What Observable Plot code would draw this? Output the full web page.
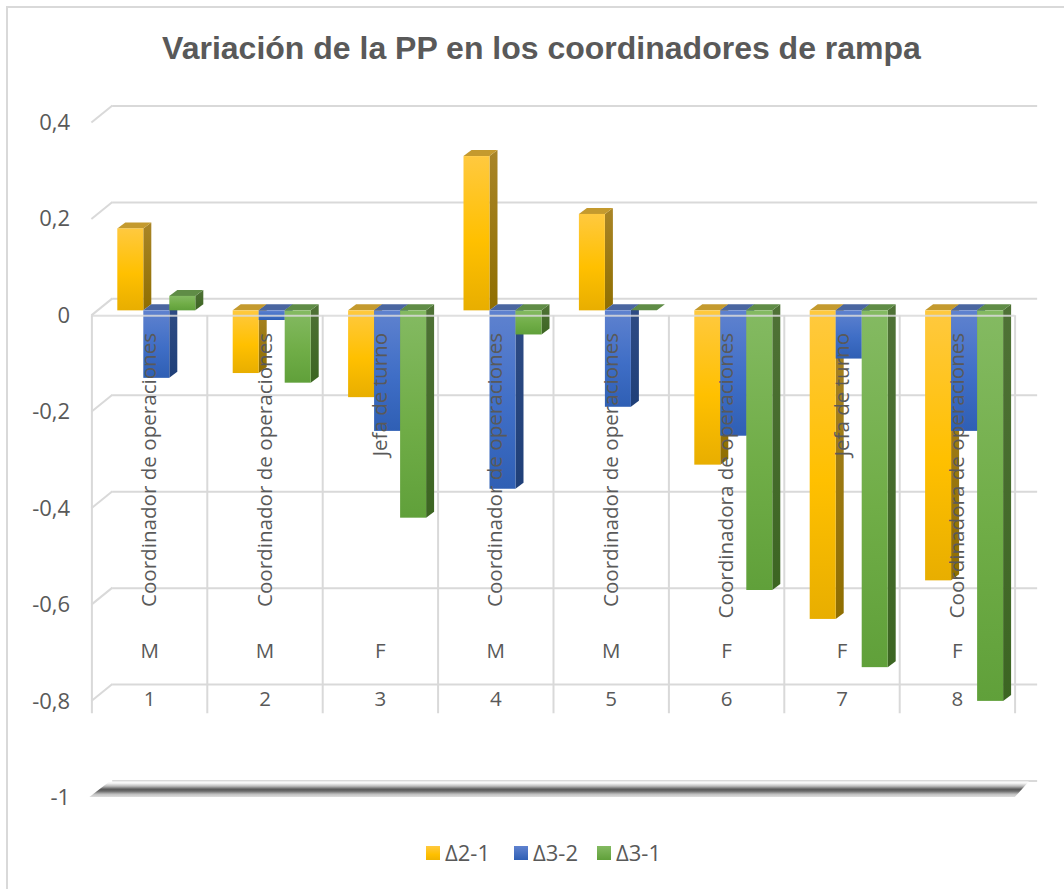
<!DOCTYPE html>
<html><head><meta charset="utf-8">
<script src="https://cdn.jsdelivr.net/npm/d3@7"></script>
<script src="https://cdn.jsdelivr.net/npm/@observablehq/plot@0.6"></script>
<style>
html,body{margin:0;padding:0;background:#fff;overflow:hidden}
#chart{position:relative;width:1064px;height:889px;overflow:hidden;background:#fff}
#chart svg.plot{position:absolute;left:0;top:0}
#frame{position:absolute;left:6px;top:6px;width:1070px;height:900px;border:2px solid #d9d9d9;box-sizing:border-box}
#title{position:absolute;left:0;top:30px;width:1083px;text-align:center;font:bold 32px "Liberation Sans",Arial,sans-serif;color:#595959;white-space:nowrap}
.lg{position:absolute;top:838px;font:22px "Open Sans",sans-serif;color:#595959;line-height:28px}
.sw{position:absolute;top:846px;width:14px;height:14px}
</style></head><body>
<div id="chart"><div id="frame"></div><div id="title">Variación de la PP en los coordinadores de rampa</div></div>
<script>
const categories = [1, 2, 3, 4, 5, 6, 7, 8];
const sexes = ["M", "M", "F", "M", "M", "F", "F", "F"];
const roles = ["Coordinador de operaciones", "Coordinador de operaciones", "Jefa de turno", "Coordinador de operaciones", "Coordinador de operaciones", "Coordinadora de operaciones", "Jefa de turno", "Coordinadora de operaciones"];
const d21 = [0.17, -0.13, -0.18, 0.32, 0.20, -0.32, -0.64, -0.56];
const d32 = [-0.14, -0.02, -0.25, -0.37, -0.20, -0.26, -0.10, -0.25];
const d31 = [0.03, -0.15, -0.43, -0.05, 0, -0.58, -0.74, -0.81];
const ticks = [0.4, 0.2, 0, -0.2, -0.4, -0.6, -0.8, -1];
const seriesNames = ["Δ2-1", "Δ3-2", "Δ3-1"];

const bw = 26 / 115.4;
const ns = "http://www.w3.org/2000/svg";
function poly(parent, pts, fill) {
  const p = document.createElementNS(ns, "polygon");
  p.setAttribute("points", pts.map(a => a.join(",")).join(" "));
  p.setAttribute("fill", fill);
  parent.appendChild(p);
  return p;
}
function grad(defs, id, stops) {
  const g = document.createElementNS(ns, "linearGradient");
  g.setAttribute("id", id); g.setAttribute("x1", 0); g.setAttribute("x2", 0); g.setAttribute("y1", 0); g.setAttribute("y2", 1);
  stops.forEach(([o, c]) => { const s = document.createElementNS(ns, "stop"); s.setAttribute("offset", o); s.setAttribute("stop-color", c); g.appendChild(s); });
  defs.appendChild(g);
}
const defsMark = () => {
  const g = document.createElementNS(ns, "g");
  const defs = document.createElementNS(ns, "defs");
  grad(defs, "fy", [[0, "#ffc93f"], [0.55, "#ffc000"], [1, "#e8ae00"]]);
  grad(defs, "fb", [[0, "#5f82cf"], [0.55, "#3f6ec6"], [1, "#2f5fb4"]]);
  grad(defs, "fg", [[0, "#84ba62"], [0.55, "#70ad47"], [1, "#60a03a"]]);
  grad(defs, "sy", [[0, "#a98527"], [1, "#8f6e00"]]);
  grad(defs, "sb", [[0, "#2f4c85"], [1, "#1f3f78"]]);
  grad(defs, "sg", [[0, "#4f7236"], [1, "#3c6522"]]);
  grad(defs, "floor", [[0, "#ffffff"], [0.12, "#f2f2f2"], [0.3, "#bbbbbb"], [0.5, "#585858"], [0.62, "#6a6a6a"], [0.82, "#c0c0c0"], [1, "#dedede"]]);
  g.appendChild(defs);
  return g;
};
const wallEdges = (index, {x, y}) => {
  const g = document.createElementNS(ns, "g");
  const x0 = x(0.5) - 7.2;
  ticks.forEach(t => {
    if (t === -1) return;
    const l = document.createElementNS(ns, "line");
    l.setAttribute("x1", x0); l.setAttribute("y1", y(t) + 5);
    l.setAttribute("x2", x0 + 21); l.setAttribute("y2", y(t) - 12);
    l.setAttribute("stroke", "#d9d9d9"); l.setAttribute("stroke-width", 2);
    g.appendChild(l);
  });
  const yb = y(-1) - 11;
  poly(g, [[x0 - 2, yb + 15.5], [x0 + 18, yb], [x(8.5) + 7, yb], [x(8.5) - 7, yb + 15.5]], "url(#floor)");
  return g;
};
const bar3d = (side, top) => (index, scales, values, dims, ctx, next) => {
  const g = next(index, scales, values, dims, ctx);
  g.querySelectorAll("rect").forEach(r => {
    const X = +r.getAttribute("x"), Y = +r.getAttribute("y") || 0, W = +r.getAttribute("width"), H = +r.getAttribute("height") || 0;
    const parent = r.parentNode;
    const f = document.createDocumentFragment();
    poly(f, [[X + W, Y], [X + W + 8, Y - 6], [X + W + 8, Y + H - 6], [X + W, Y + H]], side);
    poly(f, [[X, Y], [X + 8, Y - 6], [X + W + 8, Y - 6], [X + W, Y]], top);
    parent.insertBefore(f, r);
  });
  return g;
};
const seriesMark = (vals, k, fill, side, top) => Plot.rect(categories, {
  x1: c => c + (k - 1.5) * bw,
  x2: c => c + (k - 0.5) * bw,
  y1: 0,
  y2: (c, i) => vals[i],
  fill,
  render: bar3d(side, top)
});
const edges = categories.map(c => c - 0.5).concat([8.5]);
const label = {fontFamily: "Open Sans", fill: "#595959"};
const chart = Plot.plot({
  width: 1064, height: 889, margin: 0,
  style: {background: "transparent"},
  x: {domain: [0.5, 8.5], range: [98.6, 1021.8], axis: null},
  y: {domain: [-1, 0.4], range: [792.5, 117.5], axis: null},
  marks: [
    defsMark,
    Plot.ruleY(ticks, {y: d => d, x1: 0.5, x2: 8.515, dx: 13.6, dy: -12, stroke: "#d9d9d9", strokeWidth: 2}),
    Plot.ruleX(edges, {x: d => d, y1: 0, y2: -0.825, dx: -7.2, dy: 5, stroke: "#d9d9d9", strokeWidth: 2}),
    wallEdges,
    seriesMark(d21, 0, "url(#fy)", "url(#sy)", "#c49a2e"),
    seriesMark(d32, 1, "url(#fb)", "url(#sb)", "#4a66a0"),
    seriesMark(d31, 2, "url(#fg)", "url(#sg)", "#5f8c46"),
    Plot.ruleY([0], {x1: 0.5, x2: 8.5, dx: -7.2, dy: 5, stroke: "#d9d9d9", strokeWidth: 2, strokeOpacity: 0.85}),
    Plot.text(ticks, {x: 0.5, y: d => d, text: d => String(d).replace(".", ","), dx: -29, dy: 5, textAnchor: "end", fontSize: 22, ...label}),
    Plot.text(categories, {x: d => d, y: 0, text: (d, i) => roles[i], rotate: -90, textAnchor: "end", dx: -7.2, dy: 22, fontSize: 20.6, ...label}),
    Plot.text(categories, {x: d => d, y: 0, text: (d, i) => sexes[i], dx: -7.2, dy: 341, fontSize: 20.5, ...label}),
    Plot.text(categories, {x: d => d, y: 0, text: d => String(d), dx: -7.2, dy: 389, fontSize: 20.5, ...label})
  ]
});
const root = document.getElementById("chart");
root.appendChild(chart);
const swatchFills = ["linear-gradient(#ffc93f,#ffc000 60%,#f0b400)", "linear-gradient(#5f82cf,#2f5fb4)", "linear-gradient(#84ba62,#60a03a)"];
const swatchX = [426, 514, 597];
seriesNames.forEach((n, i) => {
  const s = document.createElement("div"); s.className = "sw"; s.style.left = swatchX[i] + "px"; s.style.background = swatchFills[i]; root.appendChild(s);
  const t = document.createElement("div"); t.className = "lg"; t.style.left = (swatchX[i] + 19) + "px"; t.textContent = n; root.appendChild(t);
});
</script>
</body></html>
